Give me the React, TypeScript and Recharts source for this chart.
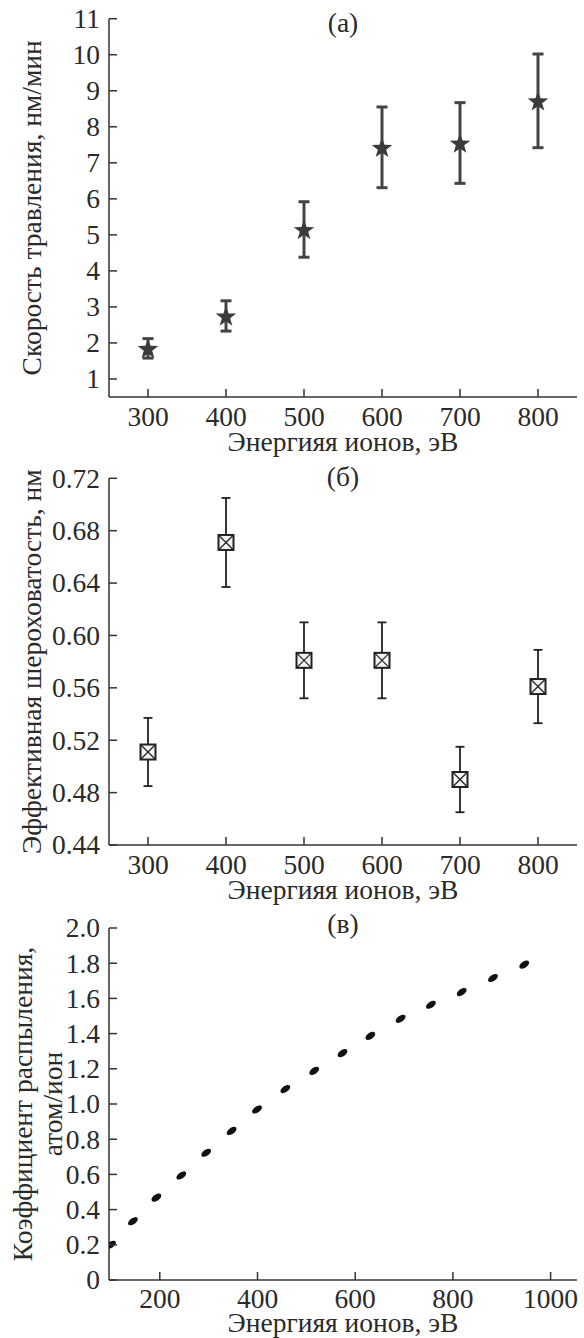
import React from 'react';
import { ScatterChart, Scatter, XAxis, YAxis, ErrorBar, Label } from 'recharts';

// ---- data ----
const energyA = [300, 400, 500, 600, 700, 800];
const etchRate = [1.85, 2.75, 5.15, 7.43, 7.55, 8.72];
const etchErr = [0.27, 0.42, 0.77, 1.12, 1.12, 1.3];

const energyB = [300, 400, 500, 600, 700, 800];
const roughness = [0.511, 0.671, 0.581, 0.581, 0.49, 0.561];
const roughErr = [0.026, 0.034, 0.029, 0.029, 0.025, 0.028];

const energyC = [100, 145, 193, 244, 295, 347, 399, 457, 516, 574, 631, 693, 755, 818, 882, 946];
const yieldC = [0.2, 0.334, 0.468, 0.594, 0.723, 0.847, 0.969, 1.085, 1.188, 1.289, 1.387, 1.484, 1.564, 1.636, 1.716, 1.792];

const ticksXA = [300, 400, 500, 600, 700, 800];
const ticksYA = [1, 2, 3, 4, 5, 6, 7, 8, 9, 10, 11];
const ticksYB = [0.44, 0.48, 0.52, 0.56, 0.6, 0.64, 0.68, 0.72];
const ticksXC = [200, 400, 600, 800, 1000];
const ticksYC = [0, 0.2, 0.4, 0.6, 0.8, 1.0, 1.2, 1.4, 1.6, 1.8, 2.0];

const xLabel = 'Энергияя ионов, эВ';
const yLabelA = 'Скорость травления, нм/мин';
const yLabelB = 'Эффективная шероховатость, нм';
const yLabelC1 = 'Коэффициент распыления,';
const yLabelC2 = 'атом/ион';

const dataA = energyA.map((x, i) => ({ x, y: etchRate[i], err: etchErr[i] }));
const dataB = energyB.map((x, i) => ({ x, y: roughness[i], err: roughErr[i] }));
const dataC = energyC.map((x, i) => ({ x, y: yieldC[i] }));

// ---- styles ----
const FONT = "'Liberation Serif', 'Times New Roman', serif";
const FS = 27.5;
const TXT = '#2a2a2a';
const AX = '#333333';
const W = 584;
const H = 475;

const makeXTick = (fmt: (v: number) => string, dy: number) => (props: any) => {
  const { x, y, payload } = props;
  return (
    <g>
      <line x1={x} y1={y} x2={x} y2={y - 8} stroke={AX} strokeWidth={1.5} />
      <text x={x} y={y + dy} textAnchor="middle" style={{ fontFamily: FONT, fontSize: FS }} fill={TXT}>
        {fmt(payload.value)}
      </text>
    </g>
  );
};

const makeYTick = (fmt: (v: number) => string) => (props: any) => {
  const { x, y, payload } = props;
  return (
    <g>
      <line x1={x} y1={y} x2={x + 8} y2={y} stroke={AX} strokeWidth={1.5} />
      <text x={x - 9} y={y + 9.3} textAnchor="end" style={{ fontFamily: FONT, fontSize: FS }} fill={TXT}>
        {fmt(payload.value)}
      </text>
    </g>
  );
};

const StarShape = (props: any) => {
  const { cx, cy } = props;
  if (cx == null || cy == null) return null;
  const R = 10.8;
  const r = 4.4;
  const pts: string[] = [];
  for (let k = 0; k < 10; k++) {
    const ang = -Math.PI / 2 + (k * Math.PI) / 5;
    const rad = k % 2 === 0 ? R : r;
    pts.push(`${cx + rad * Math.cos(ang)},${cy + 1 + rad * Math.sin(ang)}`);
  }
  return <polygon points={pts.join(' ')} fill="#3b3b3b" />;
};

const BoxCross = (props: any) => {
  const { cx, cy } = props;
  if (cx == null || cy == null) return null;
  const h = 7.5;
  return (
    <g>
      <rect x={cx - h} y={cy - h} width={2 * h} height={2 * h} fill="#f4f4f4" stroke="#222" strokeWidth={2} />
      <line x1={cx - h} y1={cy - h} x2={cx + h} y2={cy + h} stroke="#222" strokeWidth={1.2} />
      <line x1={cx - h} y1={cy + h} x2={cx + h} y2={cy - h} stroke="#222" strokeWidth={1.2} />
    </g>
  );
};

const Dot = (props: any) => {
  const { cx, cy } = props;
  if (cx == null || cy == null) return null;
  return <ellipse cx={cx} cy={cy} rx={5.6} ry={3.1} transform={`rotate(-35 ${cx} ${cy})`} fill="#111" />;
};

const xLabelContent = (dy: number) => (props: any) => {
  const vb = props.viewBox;
  return (
    <text x={vb.x + vb.width / 2} y={vb.y + dy} textAnchor="middle" style={{ fontFamily: FONT, fontSize: FS }} fill={TXT}>
      {xLabel}
    </text>
  );
};

const yLabelContent = (lines: { text: string; x: number }[], title: string, titleY: number) => (props: any) => {
  const vb = props.viewBox;
  const cy = vb.y + vb.height / 2;
  const plotCenterX = 343;
  return (
    <g>
      {lines.map((l, i) => (
        <text
          key={i}
          x={l.x}
          y={cy}
          transform={`rotate(-90 ${l.x} ${cy})`}
          textAnchor="middle"
          style={{ fontFamily: FONT, fontSize: FS }}
          fill={TXT}
        >
          {l.text}
        </text>
      ))}
      <text x={plotCenterX} y={titleY} textAnchor="middle" style={{ fontFamily: FONT, fontSize: FS }} fill={TXT}>
        {title}
      </text>
    </g>
  );
};

const intFmt = (v: number) => String(v);
const fmt2 = (v: number) => v.toFixed(2);
const fmt1 = (v: number) => (v === 0 ? '0' : v.toFixed(1));

export default function App() {
  return (
    <div style={{ position: 'absolute', left: 0, top: 0, width: W, height: 1338, overflow: 'hidden', background: '#fff' }}>
      {/* Panel (а) */}
      <div style={{ position: 'absolute', left: 0, top: 0 }}>
        <ScatterChart width={W} height={H} margin={{ top: 18.7, right: 7, bottom: H - 397 - 49, left: 0 }}>
          <XAxis
            type="number"
            dataKey="x"
            domain={[250, 850]}
            ticks={ticksXA}
            interval={0}
            height={49}
            tickSize={0}
            tickMargin={0}
            tickLine={false}
            axisLine={{ stroke: AX, strokeWidth: 1.5 }}
            tick={makeXTick(intFmt, 28.5)}
            allowDataOverflow
          >
            <Label content={xLabelContent(53.5)} />
          </XAxis>
          <YAxis
            type="number"
            dataKey="y"
            domain={[0.5, 11]}
            ticks={ticksYA}
            interval={0}
            width={109}
            tickSize={0}
            tickMargin={0}
            tickLine={false}
            axisLine={{ stroke: AX, strokeWidth: 1.5 }}
            tick={makeYTick(intFmt)}
            allowDataOverflow
          >
            <Label content={yLabelContent([{ text: yLabelA, x: 41 }], '(а)', 32.4)} />
          </YAxis>
          <Scatter data={dataA} shape={StarShape} isAnimationActive={false}>
            <ErrorBar dataKey="err" direction="y" width={5.5} stroke="#444" strokeWidth={3} />
          </Scatter>
        </ScatterChart>
      </div>

      {/* Panel (б) */}
      <div style={{ position: 'absolute', left: 0, top: 446 }}>
        <ScatterChart width={W} height={H} margin={{ top: 32.3, right: 7, bottom: H - 399 - 47, left: 0 }}>
          <XAxis
            type="number"
            dataKey="x"
            domain={[250, 850]}
            ticks={ticksXA}
            interval={0}
            height={47}
            tickSize={0}
            tickMargin={0}
            tickLine={false}
            axisLine={{ stroke: AX, strokeWidth: 1.5 }}
            tick={makeXTick(intFmt, 28.5)}
            allowDataOverflow
          >
            <Label content={xLabelContent(53.5)} />
          </XAxis>
          <YAxis
            type="number"
            dataKey="y"
            domain={[0.44, 0.72]}
            ticks={ticksYB}
            interval={0}
            width={109}
            tickSize={0}
            tickMargin={0}
            tickLine={false}
            axisLine={{ stroke: AX, strokeWidth: 1.5 }}
            tick={makeYTick(fmt2)}
            allowDataOverflow
          >
            <Label content={yLabelContent([{ text: yLabelB, x: 41 }], '(б)', 39.6)} />
          </YAxis>
          <Scatter data={dataB} shape={BoxCross} isAnimationActive={false}>
            <ErrorBar dataKey="err" direction="y" width={4.5} stroke="#222" strokeWidth={1.8} />
          </Scatter>
        </ScatterChart>
      </div>

      {/* Panel (в) */}
      <div style={{ position: 'absolute', left: 0, top: 892 }}>
        <ScatterChart width={W} height={H} margin={{ top: 36, right: 7, bottom: H - 388 - 58, left: 0 }}>
          <XAxis
            type="number"
            dataKey="x"
            domain={[96, 1054]}
            ticks={ticksXC}
            interval={0}
            height={58}
            tickSize={0}
            tickMargin={0}
            tickLine={false}
            axisLine={{ stroke: AX, strokeWidth: 1.5 }}
            tick={makeXTick(intFmt, 28)}
            allowDataOverflow
          >
            <Label content={xLabelContent(52)} />
          </XAxis>
          <YAxis
            type="number"
            dataKey="y"
            domain={[0, 2]}
            ticks={ticksYC}
            interval={0}
            width={109}
            tickSize={0}
            tickMargin={0}
            tickLine={false}
            axisLine={{ stroke: AX, strokeWidth: 1.5 }}
            tick={makeYTick(fmt1)}
            allowDataOverflow
          >
            <Label
              content={yLabelContent(
                [
                  { text: yLabelC1, x: 31.5 },
                  { text: yLabelC2, x: 62 },
                ],
                '(в)',
                41.3
              )}
            />
          </YAxis>
          <Scatter data={dataC} shape={Dot} isAnimationActive={false} />
        </ScatterChart>
      </div>
    </div>
  );
}
